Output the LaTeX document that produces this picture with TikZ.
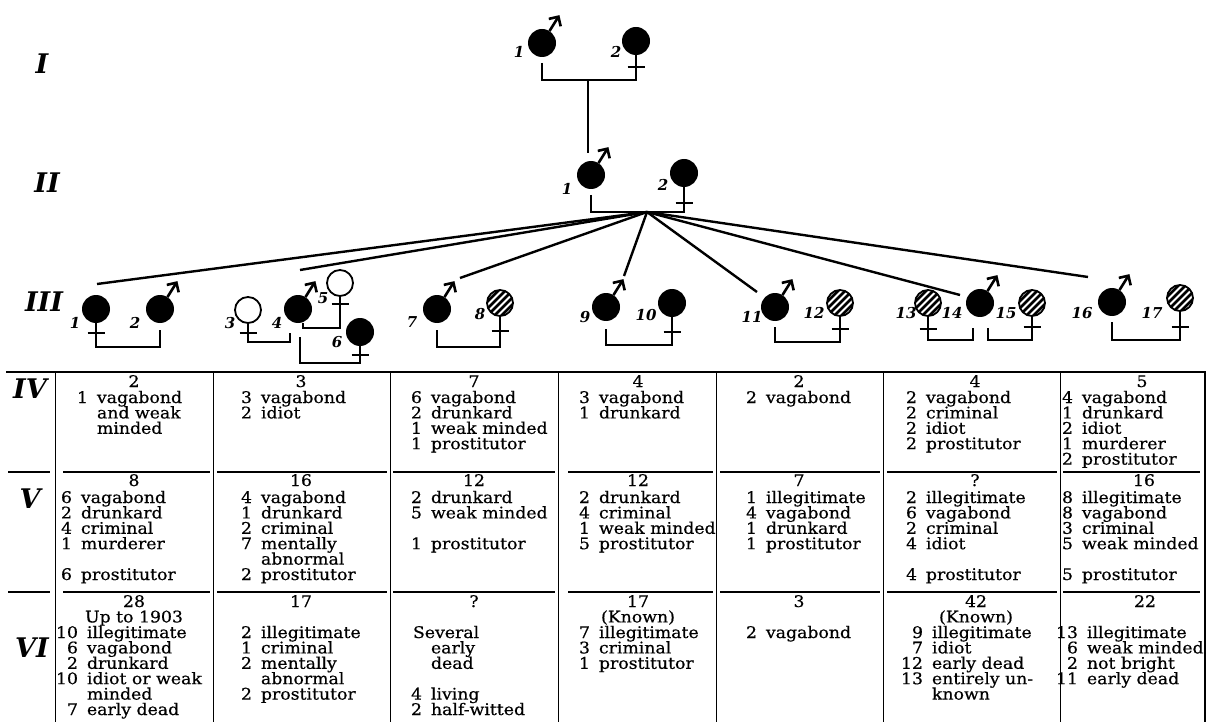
\documentclass[tikz,border=0pt]{standalone}
\usepackage{fontspec}
\setmainfont{DejaVu Serif}[FakeStretch=1.08,FakeBold=0.5]
\newfontfamily\labfamily{DejaVu Serif}
\usetikzlibrary{arrows.meta}

% type for the table cells, the generation numerals and the person numbers
\newcommand\cellfont{\fontsize{16}{15.4}\selectfont}
\newcommand\genfont{\labfamily\bfseries\itshape\fontsize{27}{27}\selectfont}
\newcommand\pnumfont{\labfamily\bfseries\itshape\fontsize{15}{15}\selectfont}
% one line of a tally: count set flush right before the word column;
% lines are smashed so that every row keeps the same close pitch
\newlength\ngap \setlength\ngap{9pt}
\newcommand\tally[2]{\smash{\llap{#1}\hspace{\ngap}#2}}
\newcommand\tallycont[1]{\smash{\hspace{\ngap}#1}}
\newcommand\tline[1]{\smash{#1}}

\begin{document}
\begin{tikzpicture}[x=1pt,y=-1pt,
  every node/.style={inner sep=0pt,outer sep=0pt},
  pfill/.style={circle,fill=black,minimum size=28pt},
  popen/.style={circle,draw=black,line width=1.8pt,minimum size=26pt},
  phatch/.style={popen,path picture={
      \foreach \k in {-28,-21,...,28}
        \draw[line width=2.7pt] ([xshift={(\k-20)*1pt},yshift=-20pt]path picture bounding box.center) -- ++(40,-40);}},
  marr/.style={line width=2pt},
  fan/.style={line width=2.4pt},
  bar/.style={line width=2.3pt},
  marrow/.style={line width=2.6pt,-{Straight Barb[length=7pt,width=14pt]}},
  gen/.style={font=\genfont,anchor=base},
  pnum/.style={font=\pnumfont},
  hdr/.style={font=\cellfont,anchor=base},
  body/.style={font=\cellfont,anchor=base west},
  frame/.style={line width=2.2pt},
  vrule/.style={line width=1pt},
  hrule/.style={line width=1.2pt}]

\fill[white] (0,0) rectangle (1208,722);
\useasboundingbox (0,0) rectangle (1208,722);

% ---------------- generation numerals ----------------
\node[gen] (gI)   at (42,74)  {I};
\node[gen] (gII)  at (47,193) {II};
\node[gen] (gIII) at (44,312) {III};
\node[gen] (gIV)  at (30,398) {IV};
\node[gen] (gV)   at (30,508) {V};
\node[gen] (gVI)  at (32,657) {VI};

% ---------------- generation I ----------------
\node[pfill] (I1) at (542,43) {};
\node[pfill] (I2) at (636,41) {};
\node[pnum] (nI1) at (519,52) {1};
\node[pnum] (nI2) at (616,52) {2};
\coordinate (dI) at (588,80);
\draw[marr] ([yshift=-6pt]I1.south) |- (dI) -| (I2.south);

% ---------------- generation II ----------------
\node[pfill] (II1) at (591,175) {};
\node[pfill] (II2) at (684,173) {};
\node[pnum] (nII1) at (567,189) {1};
\node[pnum] (nII2) at (663,185) {2};
\draw[marr] (dI) -- ([yshift=8pt]dI |- II1.north);
\coordinate (dII) at (647,212);
\draw[marr] ([yshift=-6pt]II1.south) |- (dII) -| (II2.south);

% ---------------- generation III ----------------
\node[pfill]  (f1)  at (96,309)   {};
\node[pfill]  (m2)  at (160,309)  {};
\node[popen]  (f3)  at (248,310)  {};
\node[pfill]  (m4)  at (298,309)  {};
\node[popen]  (f5)  at (340,283)  {};
\node[pfill]  (f6)  at (360,332)  {};
\node[pfill]  (m7)  at (437,309)  {};
\node[phatch] (f8)  at (500,303)  {};
\node[pfill]  (m9)  at (606,307)  {};
\node[pfill]  (f10) at (672,303)  {};
\node[pfill]  (m11) at (775,307)  {};
\node[phatch] (f12) at (840,303)  {};
\node[phatch] (f13) at (928,303)  {};
\node[pfill]  (m14) at (980,303)  {};
\node[phatch] (f15) at (1032,303) {};
\node[pfill]  (m16) at (1112,302) {};
\node[phatch] (f17) at (1180,298) {};

\node[pnum] (n1)  at (75,323)   {1};
\node[pnum] (n2)  at (135,323)  {2};
\node[pnum] (n3)  at (230,323)  {3};
\node[pnum] (n4)  at (277,323)  {4};
\node[pnum] (n5)  at (323,298)  {5};
\node[pnum] (n6)  at (337,342)  {6};
\node[pnum] (n7)  at (412,322)  {7};
\node[pnum] (n8)  at (480,314)  {8};
\node[pnum] (n9)  at (585,317)  {9};
\node[pnum] (n10) at (646,315)  {10};
\node[pnum] (n11) at (752,317)  {11};
\node[pnum] (n12) at (814,313)  {12};
\node[pnum] (n13) at (906,313)  {13};
\node[pnum] (n14) at (952,313)  {14};
\node[pnum] (n15) at (1006,313) {15};
\node[pnum] (n16) at (1082,313) {16};
\node[pnum] (n17) at (1152,313) {17};

% male arrows
\foreach \m in {I1,II1,m2,m4,m7,m9,m11,m14,m16}
  \draw[marrow] (\m.58) -- ++(10,-16);

% female crosses (distance below the circle)
\foreach \f/\d in {I2/12,II2/16,f1/10,f3/10,f5/8,f6/9,f8/15,f10/15,f12/13,f13/13,f15/11,f17/16}
  \draw[bar] ([yshift=-\d pt]\f.south) ++(-8.5,0) -- ++(17,0);

% lines of descent from the couple of generation II
\coordinate (t1) at (97,284);
\coordinate (t2) at (300,270);
\coordinate (t3) at (460,278);
\coordinate (t4) at (624,276);
\coordinate (t5) at (757,292);
\coordinate (t6) at (960,295);
\coordinate (t7) at (1088,277);
\foreach \t in {t1,t2,t3,t4,t5,t6,t7}
  \draw[fan] (dII) -- (\t);

% marriages of generation III
\coordinate (c12)   at (128,347);
\coordinate (c34)   at (270,342);
\coordinate (c45)   at (321,328);
\coordinate (c46)   at (330,363);
\coordinate (c78)   at (470,347);
\coordinate (c910)  at (640,345);
\coordinate (c1112) at (808,342);
\coordinate (c1314) at (950,340);
\coordinate (c1415) at (1010,340);
\coordinate (c1617) at (1146,340);
\draw[marr] (f1.south) |- (c12) -| ([yshift=-7pt]m2.south);
\draw[marr] (f3.south) |- (c34) -| ([xshift=-8pt,yshift=-10pt]m4.south);
\draw[marr] ([xshift=5pt]m4.south) |- (c45) -| (f5.south);
\draw[marr] ([xshift=2pt,yshift=-14pt]m4.south) |- (c46) -| (f6.south);
\draw[marr] ([yshift=-7pt]m7.south) |- (c78) -| (f8.south);
\draw[marr] ([yshift=-8pt]m9.south) |- (c910) -| (f10.south);
\draw[marr] ([yshift=-6pt]m11.south) |- (c1112) -| (f12.south);
\draw[marr] (f13.south) |- (c1314) -| ([xshift=-7pt,yshift=-11pt]m14.south);
\draw[marr] ([xshift=8pt,yshift=-11pt]m14.south) |- (c1415) -| (f15.south);
\draw[marr] ([yshift=-6pt]m16.south) |- (c1617) -| (f17.south);

% ---------------- table frame ----------------
\draw[frame] (6,372) -- (1205,372) -- (1205,722);
\foreach \x in {55,213,390,558,716,883,1060}
  \draw[vrule] (\x,372) -- (\x,722);
\foreach \y in {472,592}
  \foreach \a/\b in {8/50,63/210,217/387,393/555,568/713,720/880,887/1057,1063/1200}
    \draw[hrule] (\a,\y) -- (\b,\y);

% ---------------- generation IV ----------------
\node[hdr] (hIV1) at (134,387)  {2};
\node[hdr] (hIV2) at (301,387)  {3};
\node[hdr] (hIV3) at (474,387)  {7};
\node[hdr] (hIV4) at (638,387)  {4};
\node[hdr] (hIV5) at (799,387)  {2};
\node[hdr] (hIV6) at (975,387)  {4};
\node[hdr] (hIV7) at (1142,387) {5};
\node[body] (bIV1) at (88,403) {\begin{tabular}[t]{@{}l@{}}\tally{1}{vagabond}\\\tallycont{and weak}\\\tallycont{minded}\end{tabular}};
\node[body] (bIV2) at (252,403) {\begin{tabular}[t]{@{}l@{}}\tally{3}{vagabond}\\\tally{2}{idiot}\end{tabular}};
\node[body] (bIV3) at (422,403) {\begin{tabular}[t]{@{}l@{}}\tally{6}{vagabond}\\\tally{2}{drunkard}\\\tally{1}{weak minded}\\\tally{1}{prostitutor}\end{tabular}};
\node[body] (bIV4) at (590,403) {\begin{tabular}[t]{@{}l@{}}\tally{3}{vagabond}\\\tally{1}{drunkard}\end{tabular}};
\node[body] (bIV5) at (757,403) {\begin{tabular}[t]{@{}l@{}}\tally{2}{vagabond}\end{tabular}};
\node[body] (bIV6) at (917,403) {\begin{tabular}[t]{@{}l@{}}\tally{2}{vagabond}\\\tally{2}{criminal}\\\tally{2}{idiot}\\\tally{2}{prostitutor}\end{tabular}};
\node[body] (bIV7) at (1073,403) {\begin{tabular}[t]{@{}l@{}}\tally{4}{vagabond}\\\tally{1}{drunkard}\\\tally{2}{idiot}\\\tally{1}{murderer}\\\tally{2}{prostitutor}\end{tabular}};

% ---------------- generation V ----------------
\node[hdr] (hV1) at (134,486)  {8};
\node[hdr] (hV2) at (301,486)  {16};
\node[hdr] (hV3) at (474,486)  {12};
\node[hdr] (hV4) at (638,486)  {12};
\node[hdr] (hV5) at (799,486)  {7};
\node[hdr] (hV6) at (975,486)  {?};
\node[hdr] (hV7) at (1144,486) {16};
\node[body] (bV1) at (72,503) {\begin{tabular}[t]{@{}l@{}}\tally{6}{vagabond}\\\tally{2}{drunkard}\\\tally{4}{criminal}\\\tally{1}{murderer}\\ \\\tally{6}{prostitutor}\end{tabular}};
\node[body] (bV2) at (252,503) {\begin{tabular}[t]{@{}l@{}}\tally{4}{vagabond}\\\tally{1}{drunkard}\\\tally{2}{criminal}\\\tally{7}{mentally}\\\tallycont{abnormal}\\\tally{2}{prostitutor}\end{tabular}};
\node[body] (bV3) at (422,503) {\begin{tabular}[t]{@{}l@{}}\tally{2}{drunkard}\\\tally{5}{weak minded}\\ \\\tally{1}{prostitutor}\end{tabular}};
\node[body] (bV4) at (590,503) {\begin{tabular}[t]{@{}l@{}}\tally{2}{drunkard}\\\tally{4}{criminal}\\\tally{1}{weak minded}\\\tally{5}{prostitutor}\end{tabular}};
\node[body] (bV5) at (757,503) {\begin{tabular}[t]{@{}l@{}}\tally{1}{illegitimate}\\\tally{4}{vagabond}\\\tally{1}{drunkard}\\\tally{1}{prostitutor}\end{tabular}};
\node[body] (bV6) at (917,503) {\begin{tabular}[t]{@{}l@{}}\tally{2}{illegitimate}\\\tally{6}{vagabond}\\\tally{2}{criminal}\\\tally{4}{idiot}\\ \\\tally{4}{prostitutor}\end{tabular}};
\node[body] (bV7) at (1073,503) {\begin{tabular}[t]{@{}l@{}}\tally{8}{illegitimate}\\\tally{8}{vagabond}\\\tally{3}{criminal}\\\tally{5}{weak minded}\\ \\\tally{5}{prostitutor}\end{tabular}};

% ---------------- generation VI ----------------
\node[hdr] (hVI1) at (134,607)  {\begin{tabular}[t]{@{}c@{}}\tline{28}\\\tline{Up to 1903}\end{tabular}};
\node[hdr] (hVI2) at (301,607)  {17};
\node[hdr] (hVI3) at (474,607)  {?};
\node[hdr] (hVI4) at (638,607)  {\begin{tabular}[t]{@{}c@{}}\tline{17}\\\tline{(Known)}\end{tabular}};
\node[hdr] (hVI5) at (799,607)  {3};
\node[hdr] (hVI6) at (976,607)  {\begin{tabular}[t]{@{}c@{}}\tline{42}\\\tline{(Known)}\end{tabular}};
\node[hdr] (hVI7) at (1145,607) {22};
\node[body] (bVI1) at (78,638) {\begin{tabular}[t]{@{}l@{}}\tally{10}{illegitimate}\\\tally{6}{vagabond}\\\tally{2}{drunkard}\\\tally{10}{idiot or weak}\\\tallycont{minded}\\\tally{7}{early dead}\end{tabular}};
\node[body] (bVI2) at (252,638) {\begin{tabular}[t]{@{}l@{}}\tally{2}{illegitimate}\\\tally{1}{criminal}\\\tally{2}{mentally}\\\tallycont{abnormal}\\\tally{2}{prostitutor}\end{tabular}};
\node[body] (bVI3) at (422,638) {\begin{tabular}[t]{@{}l@{}}\tline{\kern-9pt Several}\\\tallycont{early}\\\tallycont{dead}\\ \\\tally{4}{living}\\\tally{2}{half-witted}\end{tabular}};
\node[body] (bVI4) at (590,638) {\begin{tabular}[t]{@{}l@{}}\tally{7}{illegitimate}\\\tally{3}{criminal}\\\tally{1}{prostitutor}\end{tabular}};
\node[body] (bVI5) at (757,638) {\begin{tabular}[t]{@{}l@{}}\tally{2}{vagabond}\end{tabular}};
\node[body] (bVI6) at (923,638) {\begin{tabular}[t]{@{}l@{}}\tally{9}{illegitimate}\\\tally{7}{idiot}\\\tally{12}{early dead}\\\tally{13}{entirely un-}\\\tallycont{known}\end{tabular}};
\node[body] (bVI7) at (1078,638) {\begin{tabular}[t]{@{}l@{}}\tally{13}{illegitimate}\\\tally{6}{weak minded}\\\tally{2}{not bright}\\\tally{11}{early dead}\end{tabular}};

\end{tikzpicture}
\end{document}
